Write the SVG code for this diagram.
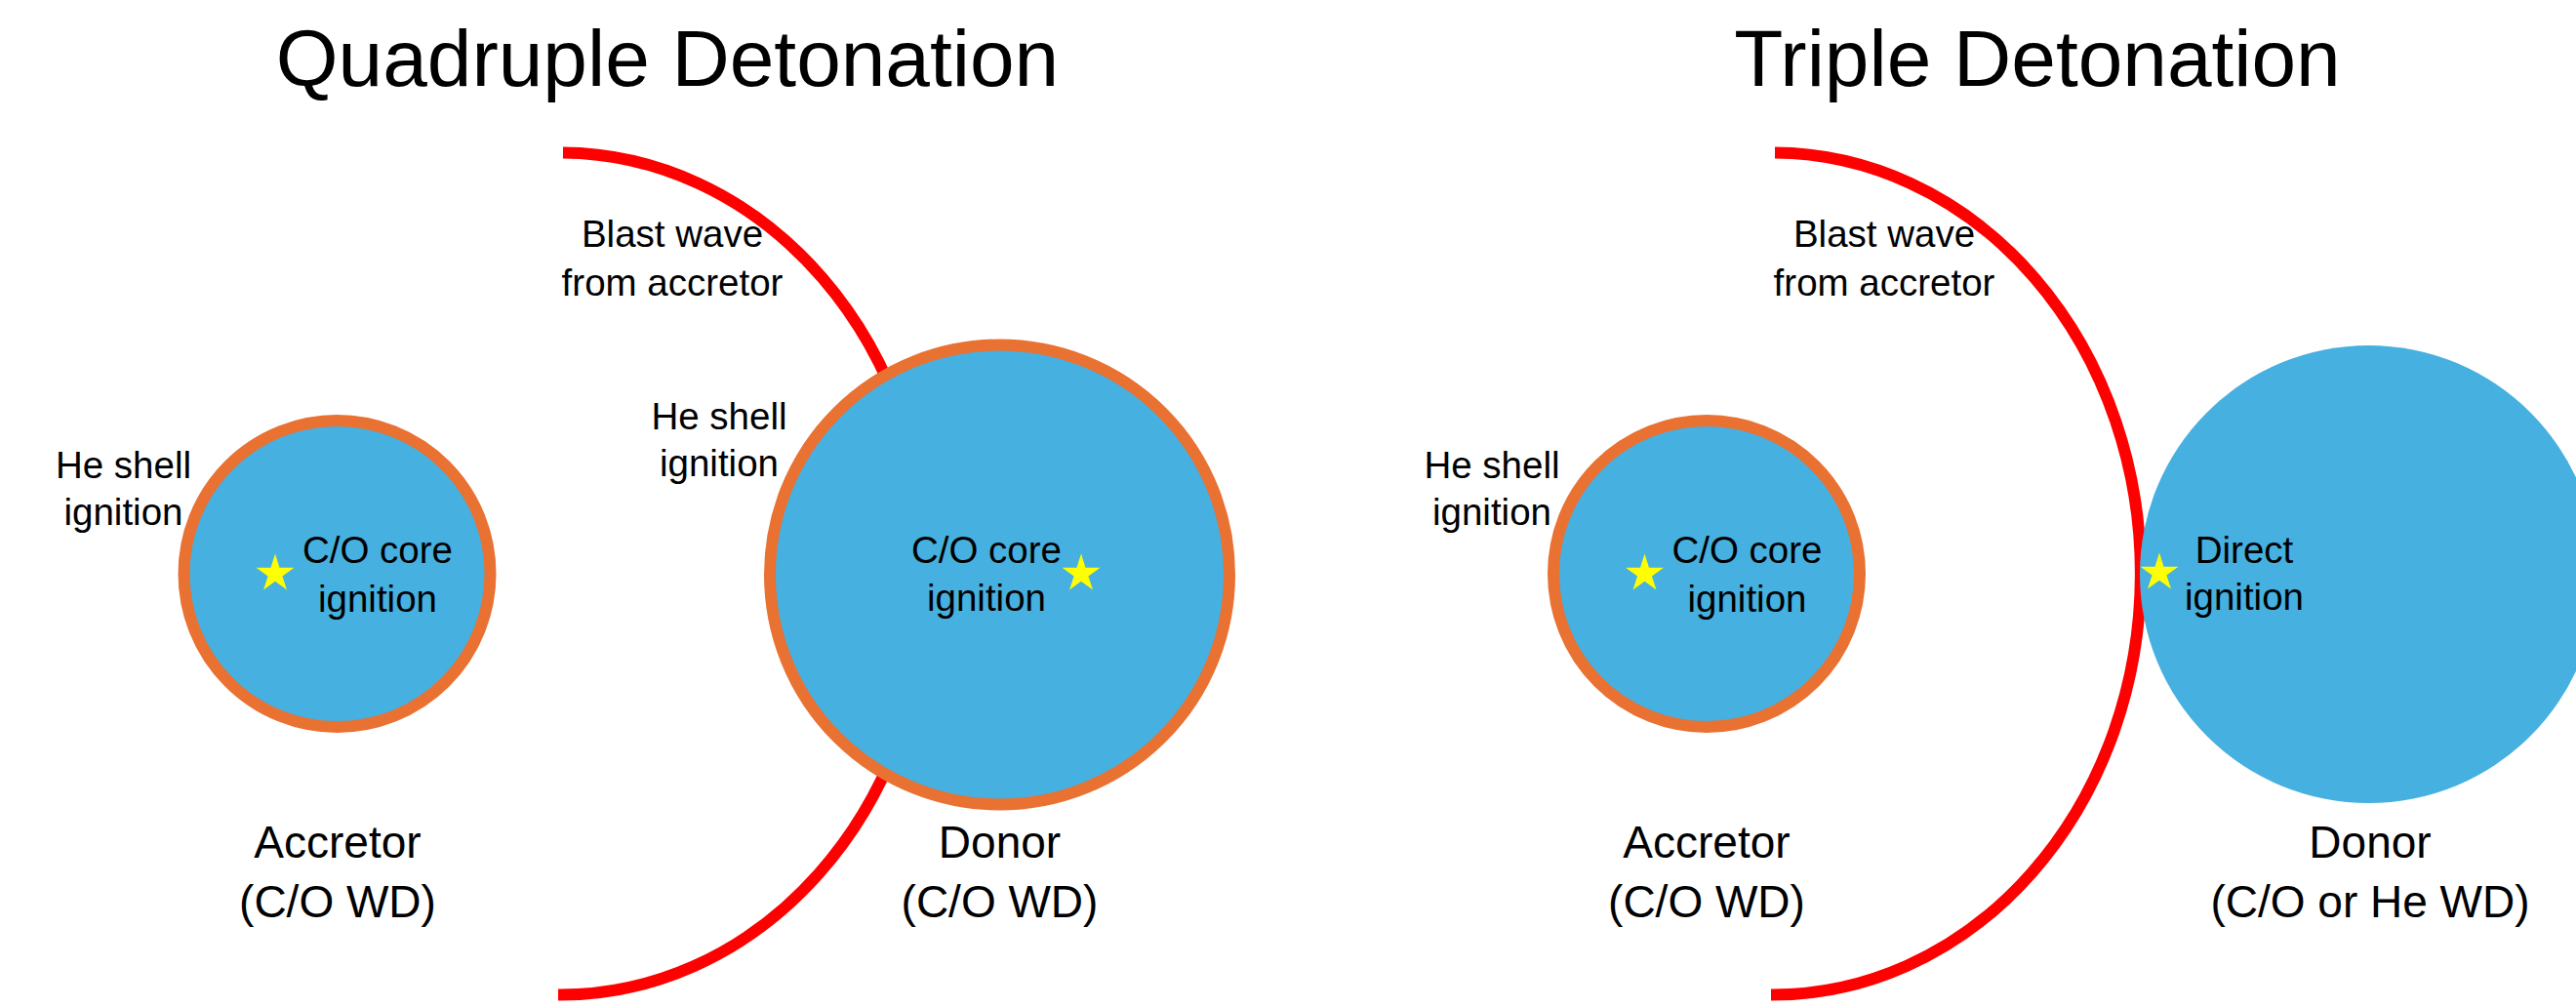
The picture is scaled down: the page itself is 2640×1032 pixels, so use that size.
<svg xmlns="http://www.w3.org/2000/svg" xmlns:xlink="http://www.w3.org/1999/xlink" width="2640" height="1032" viewBox="0 0 2640 1032">
<style>
  text { font-family: "Liberation Sans", Arial, sans-serif; fill: #000; text-anchor: middle; }
  .title { font-size: 82px; }
  .lbl { font-size: 38.5px; }
  .big { font-size: 46px; }
  .wave { fill: none; stroke: #FF0000; stroke-width: 12; }
  .wd { fill: #46B0E0; stroke: #E97132; stroke-width: 12; }
  .wdplain { fill: #46B0E0; }
  .star { fill: #FFFF00; }
</style>
<defs>
  <path id="star" d="M0,-20.5 L4.5,-6.2 L19.5,-6.3 L7.4,2.4 L12,16.6 L0,7.8 L-12,16.6 L-7.4,2.4 L-19.5,-6.3 L-4.5,-6.2 Z"/>
</defs>
<rect width="2640" height="1032" fill="#fff"/>

<g id="titles">
  <text class="title" x="684" y="88">Quadruple Detonation</text>
  <text class="title" x="2088" y="88">Triple Detonation</text>
</g>

<g id="connectors">
  <path class="wave" d="M577,156.5 A377,431.5 0 0 1 572,1019.5"/>
  <path class="wave" d="M1819,156.5 A377,431.5 0 0 1 1815,1019.5"/>
</g>

<g id="quad-accretor">
  <circle class="wd" cx="345.5" cy="588" r="157"/>
  <use xlink:href="#star" class="star" x="282" y="588"/>
  <text class="lbl" x="387" y="577">C/O core</text>
  <text class="lbl" x="387" y="627">ignition</text>
  <text class="lbl" x="126.5" y="490">He shell</text>
  <text class="lbl" x="126.5" y="538">ignition</text>
  <text class="big" x="346" y="879">Accretor</text>
  <text class="big" x="346" y="940">(C/O WD)</text>
</g>

<g id="quad-donor">
  <circle class="wd" cx="1024.5" cy="589" r="235.5"/>
  <use xlink:href="#star" class="star" x="1108" y="588"/>
  <text class="lbl" x="1011" y="577">C/O core</text>
  <text class="lbl" x="1011" y="626">ignition</text>
  <text class="lbl" x="737" y="440">He shell</text>
  <text class="lbl" x="737" y="488">ignition</text>
  <text class="big" x="1024.5" y="879">Donor</text>
  <text class="big" x="1024.5" y="940">(C/O WD)</text>
</g>

<g id="quad-blast-label">
  <text class="lbl" x="689" y="253">Blast wave</text>
  <text class="lbl" x="689" y="303">from accretor</text>
</g>

<g id="triple-accretor">
  <circle class="wd" cx="1749" cy="588" r="157"/>
  <use xlink:href="#star" class="star" x="1685.5" y="588"/>
  <text class="lbl" x="1790.5" y="577">C/O core</text>
  <text class="lbl" x="1790.5" y="627">ignition</text>
  <text class="lbl" x="1529" y="490">He shell</text>
  <text class="lbl" x="1529" y="538">ignition</text>
  <text class="big" x="1749" y="879">Accretor</text>
  <text class="big" x="1749" y="940">(C/O WD)</text>
</g>

<g id="triple-donor">
  <circle class="wdplain" cx="2427.5" cy="588.5" r="234.5"/>
  <use xlink:href="#star" class="star" x="2213" y="587"/>
  <text class="lbl" x="2300" y="577">Direct</text>
  <text class="lbl" x="2300" y="625">ignition</text>
  <text class="big" x="2429" y="879">Donor</text>
  <text class="big" x="2429" y="940">(C/O or He WD)</text>
</g>

<g id="triple-blast-label">
  <text class="lbl" x="1931" y="253">Blast wave</text>
  <text class="lbl" x="1931" y="303">from accretor</text>
</g>
</svg>
